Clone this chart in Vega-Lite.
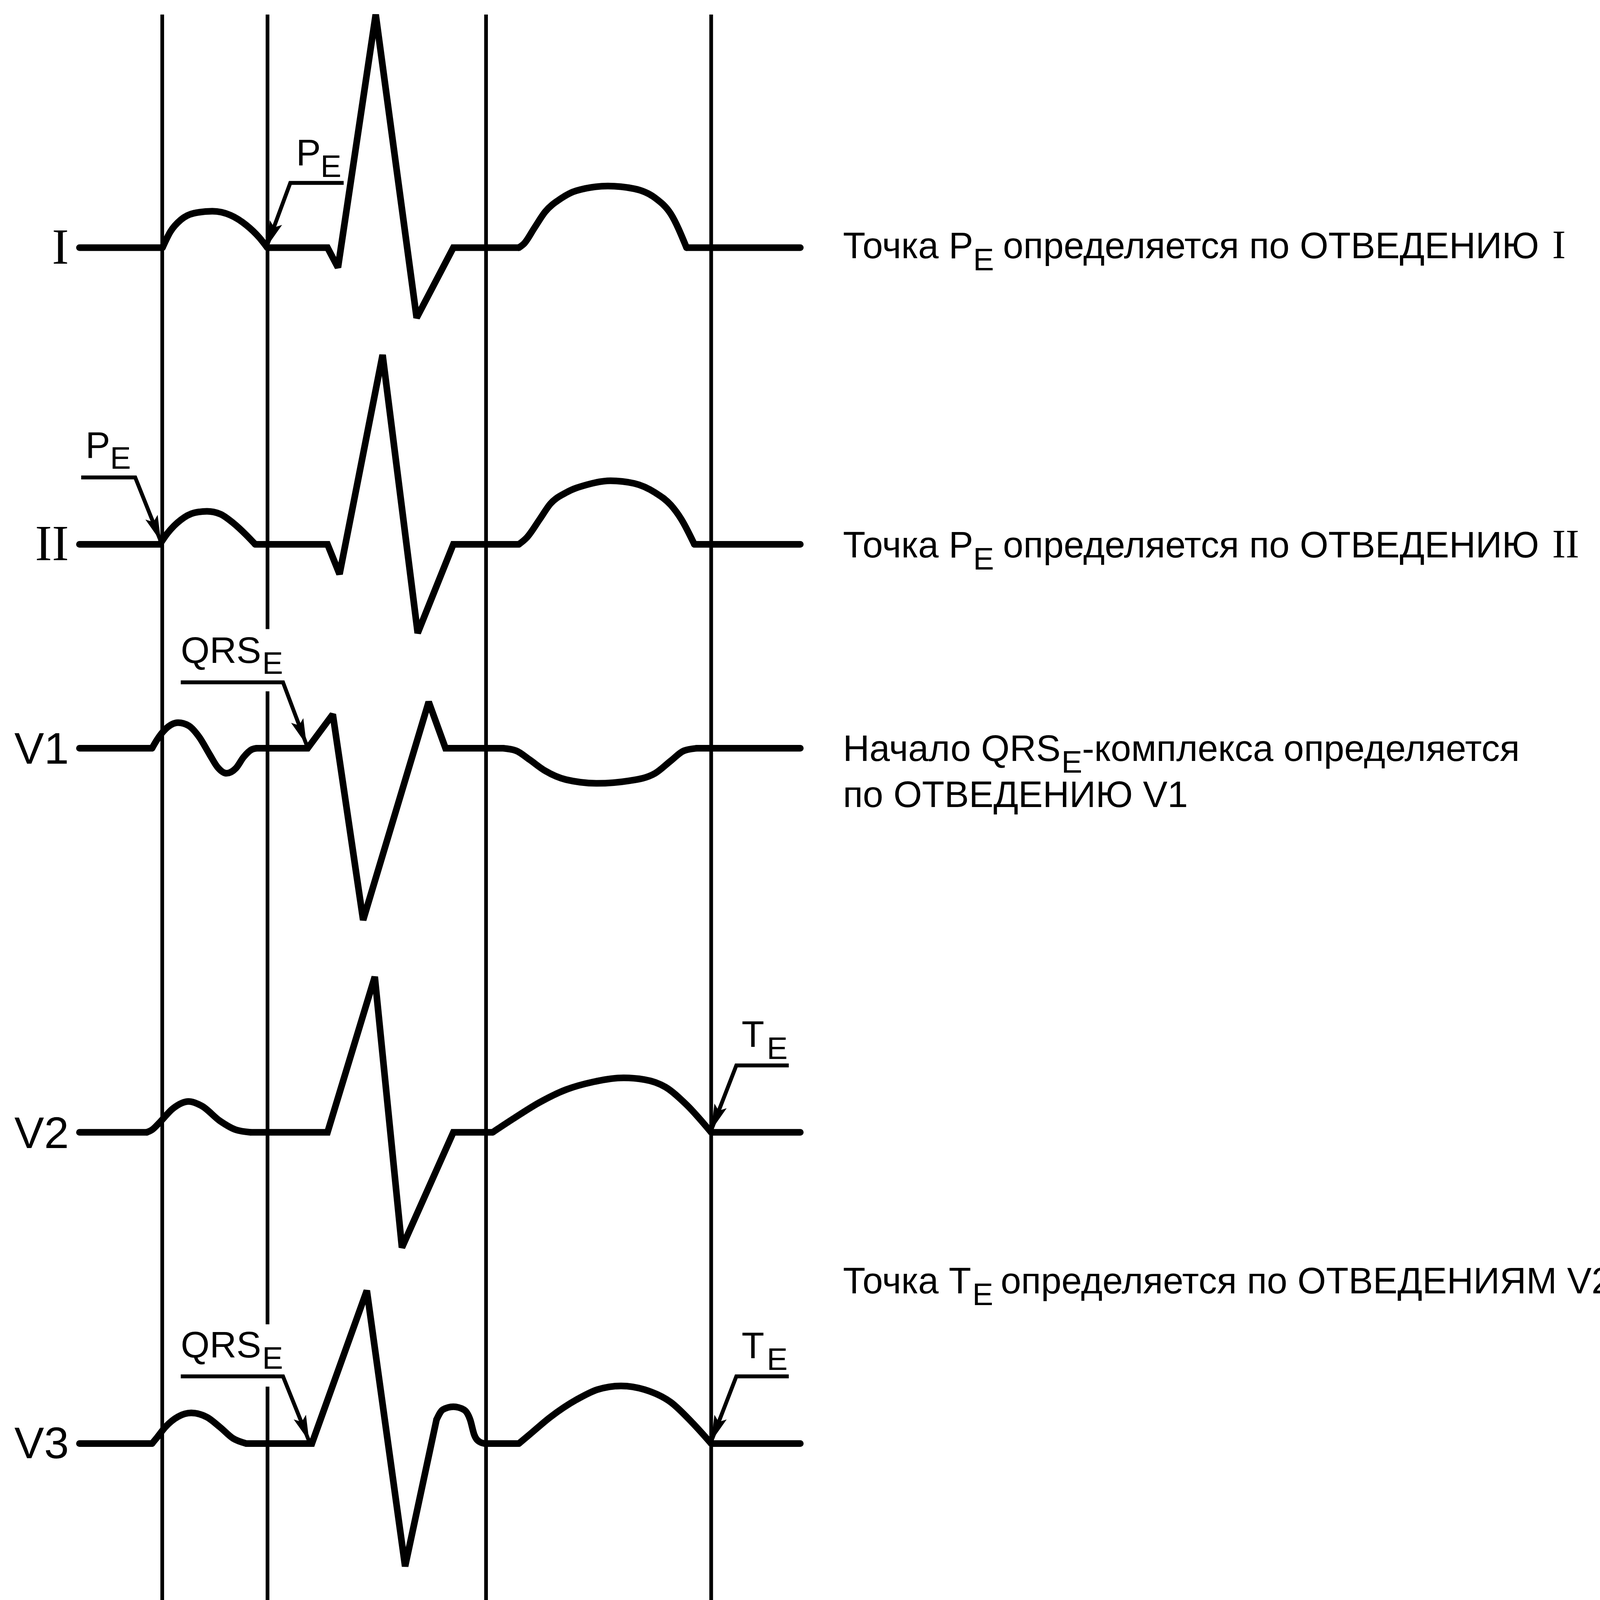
{
"$schema": "https://vega.github.io/schema/vega-lite/v6.json",
"width": 4312, "height": 5316, "padding": 0, "autosize": {"type": "none"},
"background": "white",
"config": {"view": {"stroke": null}},
"datasets": {
"trace": [
{"s":"I1","k":"L","o":0,"x":60,"y":187},{"s":"I1","k":"L","o":1,"x":122.7,"y":187},
{"s":"I2","k":"C","o":0,"x":122.7,"y":187},{"s":"I2","k":"C","o":1,"x":128.6,"y":175},{"s":"I2","k":"C","o":2,"x":136.5,"y":166},{"s":"I2","k":"C","o":3,"x":146.4,"y":161},{"s":"I2","k":"C","o":4,"x":160.3,"y":159.5},{"s":"I2","k":"C","o":5,"x":174.1,"y":162.5},{"s":"I2","k":"C","o":6,"x":186,"y":170},{"s":"I2","k":"C","o":7,"x":195.9,"y":179.5},{"s":"I2","k":"C","o":8,"x":201.8,"y":187},
{"s":"I3","k":"L","o":0,"x":201.8,"y":187},{"s":"I3","k":"L","o":1,"x":247.3,"y":187},{"s":"I3","k":"L","o":2,"x":255.2,"y":202},{"s":"I3","k":"L","o":3,"x":283.7,"y":11},{"s":"I3","k":"L","o":4,"x":314.6,"y":240},{"s":"I3","k":"L","o":5,"x":342.3,"y":187},{"s":"I3","k":"L","o":6,"x":391.8,"y":187},
{"s":"I4","k":"C","o":0,"x":391.8,"y":187},{"s":"I4","k":"C","o":1,"x":395.7,"y":184},{"s":"I4","k":"C","o":2,"x":403.6,"y":172},{"s":"I4","k":"C","o":3,"x":411.6,"y":160},{"s":"I4","k":"C","o":4,"x":423.4,"y":150},{"s":"I4","k":"C","o":5,"x":435.3,"y":144},{"s":"I4","k":"C","o":6,"x":459,"y":140.5},{"s":"I4","k":"C","o":7,"x":478.8,"y":142.5},{"s":"I4","k":"C","o":8,"x":494.7,"y":149.5},{"s":"I4","k":"C","o":9,"x":506.5,"y":161.5},{"s":"I4","k":"C","o":10,"x":518.4,"y":187},
{"s":"I5","k":"L","o":0,"x":518.4,"y":187},{"s":"I5","k":"L","o":1,"x":604.3,"y":187},

{"s":"II1","k":"L","o":0,"x":60,"y":411},{"s":"II1","k":"L","o":1,"x":120.7,"y":411},
{"s":"II2","k":"C","o":0,"x":120.7,"y":411},{"s":"II2","k":"C","o":1,"x":126.6,"y":402.5},{"s":"II2","k":"C","o":2,"x":136.5,"y":392.6},{"s":"II2","k":"C","o":3,"x":146.4,"y":387.3},{"s":"II2","k":"C","o":4,"x":156.3,"y":386.1},{"s":"II2","k":"C","o":5,"x":166.2,"y":388.1},{"s":"II2","k":"C","o":6,"x":176.1,"y":394.9},{"s":"II2","k":"C","o":7,"x":186,"y":404},{"s":"II2","k":"C","o":8,"x":192.7,"y":411},
{"s":"II3","k":"L","o":0,"x":192.7,"y":411},{"s":"II3","k":"L","o":1,"x":247.3,"y":411},{"s":"II3","k":"L","o":2,"x":256.4,"y":433.5},{"s":"II3","k":"L","o":3,"x":288.9,"y":268},{"s":"II3","k":"L","o":4,"x":315.4,"y":478},{"s":"II3","k":"L","o":5,"x":342.3,"y":411},{"s":"II3","k":"L","o":6,"x":391.8,"y":411},
{"s":"II4","k":"C","o":0,"x":391.8,"y":411},{"s":"II4","k":"C","o":1,"x":397.7,"y":406},{"s":"II4","k":"C","o":2,"x":407.6,"y":392},{"s":"II4","k":"C","o":3,"x":415.5,"y":380.5},{"s":"II4","k":"C","o":4,"x":427.4,"y":372},{"s":"II4","k":"C","o":5,"x":443.2,"y":366},{"s":"II4","k":"C","o":6,"x":461,"y":363},{"s":"II4","k":"C","o":7,"x":478.8,"y":365},{"s":"II4","k":"C","o":8,"x":494.7,"y":372},{"s":"II4","k":"C","o":9,"x":506.5,"y":381.3},{"s":"II4","k":"C","o":10,"x":514.4,"y":392},{"s":"II4","k":"C","o":11,"x":524.3,"y":411},
{"s":"II5","k":"L","o":0,"x":524.3,"y":411},{"s":"II5","k":"L","o":1,"x":604.3,"y":411},

{"s":"V1a","k":"L","o":0,"x":60,"y":565},{"s":"V1a","k":"L","o":1,"x":114.8,"y":565},
{"s":"V1b","k":"C","o":0,"x":114.8,"y":565},{"s":"V1b","k":"C","o":1,"x":118.7,"y":558.4},{"s":"V1b","k":"C","o":2,"x":124.7,"y":550.8},{"s":"V1b","k":"C","o":3,"x":134.5,"y":545.7},{"s":"V1b","k":"C","o":4,"x":142.5,"y":548},{"s":"V1b","k":"C","o":5,"x":150.4,"y":556.5},{"s":"V1b","k":"C","o":6,"x":158.3,"y":569.7},{"s":"V1b","k":"C","o":7,"x":164.2,"y":579.2},{"s":"V1b","k":"C","o":8,"x":171,"y":583.9},{"s":"V1b","k":"C","o":9,"x":178.1,"y":580.1},{"s":"V1b","k":"C","o":10,"x":184,"y":571.6},{"s":"V1b","k":"C","o":11,"x":190,"y":566},{"s":"V1b","k":"C","o":12,"x":193.9,"y":565},
{"s":"V1c","k":"L","o":0,"x":193.9,"y":565},{"s":"V1c","k":"L","o":1,"x":232.3,"y":565},{"s":"V1c","k":"L","o":2,"x":251.3,"y":539.4},{"s":"V1c","k":"L","o":3,"x":274.2,"y":694.7},{"s":"V1c","k":"L","o":4,"x":323.7,"y":530},{"s":"V1c","k":"L","o":5,"x":336.4,"y":565},{"s":"V1c","k":"L","o":6,"x":379.9,"y":565},
{"s":"V1d","k":"C","o":0,"x":379.9,"y":565},{"s":"V1d","k":"C","o":1,"x":389.8,"y":566.9},{"s":"V1d","k":"C","o":2,"x":399.7,"y":573.5},{"s":"V1d","k":"C","o":3,"x":411.6,"y":582},{"s":"V1d","k":"C","o":4,"x":427.4,"y":588.7},{"s":"V1d","k":"C","o":5,"x":451.1,"y":591.5},{"s":"V1d","k":"C","o":6,"x":474.9,"y":589.6},{"s":"V1d","k":"C","o":7,"x":494.7,"y":583.9},{"s":"V1d","k":"C","o":8,"x":506.5,"y":574.5},{"s":"V1d","k":"C","o":9,"x":516.4,"y":566.9},{"s":"V1d","k":"C","o":10,"x":526.3,"y":565},
{"s":"V1e","k":"L","o":0,"x":526.3,"y":565},{"s":"V1e","k":"L","o":1,"x":604.3,"y":565},

{"s":"V2a","k":"L","o":0,"x":60,"y":855},{"s":"V2a","k":"L","o":1,"x":110.8,"y":855},
{"s":"V2b","k":"C","o":0,"x":110.8,"y":855},{"s":"V2b","k":"C","o":1,"x":114.8,"y":853.1},{"s":"V2b","k":"C","o":2,"x":120.7,"y":847.4},{"s":"V2b","k":"C","o":3,"x":130.6,"y":837},{"s":"V2b","k":"C","o":4,"x":142.5,"y":831.7},{"s":"V2b","k":"C","o":5,"x":152.4,"y":835.1},{"s":"V2b","k":"C","o":6,"x":166.2,"y":846.5},{"s":"V2b","k":"C","o":7,"x":178.1,"y":853.1},{"s":"V2b","k":"C","o":8,"x":189.2,"y":855},
{"s":"V2c","k":"L","o":0,"x":189.2,"y":855},{"s":"V2c","k":"L","o":1,"x":247.3,"y":855},{"s":"V2c","k":"L","o":2,"x":283,"y":737.6},{"s":"V2c","k":"L","o":3,"x":303.5,"y":942},{"s":"V2c","k":"L","o":4,"x":342.3,"y":855},{"s":"V2c","k":"L","o":5,"x":372,"y":855},
{"s":"V2d","k":"C","o":0,"x":372,"y":855},{"s":"V2d","k":"C","o":1,"x":387.8,"y":844.6},{"s":"V2d","k":"C","o":2,"x":407.6,"y":832.3},{"s":"V2d","k":"C","o":3,"x":427.4,"y":822.8},{"s":"V2d","k":"C","o":4,"x":447.2,"y":817.1},{"s":"V2d","k":"C","o":5,"x":470.9,"y":813.9},{"s":"V2d","k":"C","o":6,"x":486.7,"y":815.2},{"s":"V2d","k":"C","o":7,"x":502.6,"y":820.9},{"s":"V2d","k":"C","o":8,"x":518.4,"y":834.2},{"s":"V2d","k":"C","o":9,"x":537,"y":855},
{"s":"V2e","k":"L","o":0,"x":537,"y":855},{"s":"V2e","k":"L","o":1,"x":604.3,"y":855},

{"s":"V3a","k":"L","o":0,"x":60,"y":1090},{"s":"V3a","k":"L","o":1,"x":114.8,"y":1090},
{"s":"V3b","k":"C","o":0,"x":114.8,"y":1090},{"s":"V3b","k":"C","o":1,"x":118.7,"y":1085.3},{"s":"V3b","k":"C","o":2,"x":124.7,"y":1077.7},{"s":"V3b","k":"C","o":3,"x":134.5,"y":1069.7},{"s":"V3b","k":"C","o":4,"x":144.4,"y":1066.9},{"s":"V3b","k":"C","o":5,"x":156.3,"y":1070.1},{"s":"V3b","k":"C","o":6,"x":166.2,"y":1077.7},{"s":"V3b","k":"C","o":7,"x":176.1,"y":1086.2},{"s":"V3b","k":"C","o":8,"x":186,"y":1090},
{"s":"V3c","k":"L","o":0,"x":186,"y":1090},{"s":"V3c","k":"L","o":1,"x":235.5,"y":1090},{"s":"V3c","k":"L","o":2,"x":277,"y":974.5},{"s":"V3c","k":"L","o":3,"x":305.9,"y":1182.7},{"s":"V3c","k":"L","o":4,"x":329.6,"y":1072},
{"s":"V3d","k":"C","o":0,"x":329.6,"y":1072},{"s":"V3d","k":"C","o":1,"x":334.4,"y":1064.4},{"s":"V3d","k":"C","o":2,"x":342.3,"y":1062.2},{"s":"V3d","k":"C","o":3,"x":350.2,"y":1064.4},{"s":"V3d","k":"C","o":4,"x":355,"y":1072},{"s":"V3d","k":"C","o":5,"x":358.1,"y":1083.4},{"s":"V3d","k":"C","o":6,"x":362.1,"y":1088.7},{"s":"V3d","k":"C","o":7,"x":366,"y":1090},
{"s":"V3e","k":"L","o":0,"x":366,"y":1090},{"s":"V3e","k":"L","o":1,"x":391.8,"y":1090},
{"s":"V3f","k":"C","o":0,"x":391.8,"y":1090},{"s":"V3f","k":"C","o":1,"x":399.7,"y":1083.4},{"s":"V3f","k":"C","o":2,"x":415.5,"y":1070.1},{"s":"V3f","k":"C","o":3,"x":435.3,"y":1056.9},{"s":"V3f","k":"C","o":4,"x":451.1,"y":1049.3},{"s":"V3f","k":"C","o":5,"x":468.9,"y":1046.5},{"s":"V3f","k":"C","o":6,"x":486.7,"y":1049.3},{"s":"V3f","k":"C","o":7,"x":506.5,"y":1058.8},{"s":"V3f","k":"C","o":8,"x":522.4,"y":1073.9},{"s":"V3f","k":"C","o":9,"x":537,"y":1090},
{"s":"V3g","k":"L","o":0,"x":537,"y":1090},{"s":"V3g","k":"L","o":1,"x":604.3,"y":1090},

{"s":"V5a","k":"L","o":0,"x":60,"y":1340},{"s":"V5a","k":"L","o":1,"x":114.8,"y":1340},
{"s":"V5b","k":"C","o":0,"x":114.8,"y":1340},{"s":"V5b","k":"C","o":1,"x":120.7,"y":1335.8},{"s":"V5b","k":"C","o":2,"x":130.6,"y":1328.3},{"s":"V5b","k":"C","o":3,"x":142.5,"y":1323.3},{"s":"V5b","k":"C","o":4,"x":154.3,"y":1321.6},{"s":"V5b","k":"C","o":5,"x":166.2,"y":1323.3},{"s":"V5b","k":"C","o":6,"x":178.1,"y":1330.8},{"s":"V5b","k":"C","o":7,"x":186,"y":1337},{"s":"V5b","k":"C","o":8,"x":191.1,"y":1340},
{"s":"V5c","k":"L","o":0,"x":191.1,"y":1340},{"s":"V5c","k":"L","o":1,"x":245.4,"y":1340},{"s":"V5c","k":"L","o":2,"x":290.9,"y":1215},{"s":"V5c","k":"L","o":3,"x":336.4,"y":1384.3},{"s":"V5c","k":"L","o":4,"x":367.2,"y":1340},{"s":"V5c","k":"L","o":5,"x":415.5,"y":1340},
{"s":"V5d","k":"C","o":0,"x":415.5,"y":1340},{"s":"V5d","k":"C","o":1,"x":423.4,"y":1327},{"s":"V5d","k":"C","o":2,"x":435.3,"y":1315.8},{"s":"V5d","k":"C","o":3,"x":451.1,"y":1305.9},{"s":"V5d","k":"C","o":4,"x":470.9,"y":1300.9},{"s":"V5d","k":"C","o":5,"x":490.7,"y":1305.9},{"s":"V5d","k":"C","o":6,"x":506.5,"y":1317.1},{"s":"V5d","k":"C","o":7,"x":518.4,"y":1328.3},{"s":"V5d","k":"C","o":8,"x":528.3,"y":1340},
{"s":"V5e","k":"L","o":0,"x":528.3,"y":1340},{"s":"V5e","k":"L","o":1,"x":604.3,"y":1340},

{"s":"V6a","k":"L","o":0,"x":60,"y":1535},{"s":"V6a","k":"L","o":1,"x":114.8,"y":1535},
{"s":"V6b","k":"C","o":0,"x":114.8,"y":1535},{"s":"V6b","k":"C","o":1,"x":120.7,"y":1530.5},{"s":"V6b","k":"C","o":2,"x":130.6,"y":1523},{"s":"V6b","k":"C","o":3,"x":142.5,"y":1518},{"s":"V6b","k":"C","o":4,"x":154.3,"y":1516.3},{"s":"V6b","k":"C","o":5,"x":166.2,"y":1518},{"s":"V6b","k":"C","o":6,"x":178.1,"y":1526.3},{"s":"V6b","k":"C","o":7,"x":186,"y":1532.5},{"s":"V6b","k":"C","o":8,"x":191.1,"y":1535},
{"s":"V6c","k":"L","o":0,"x":191.1,"y":1535},{"s":"V6c","k":"L","o":1,"x":243.4,"y":1535},{"s":"V6c","k":"L","o":2,"x":253.3,"y":1545},{"s":"V6c","k":"L","o":3,"x":290.9,"y":1409.7},{"s":"V6c","k":"L","o":4,"x":328.5,"y":1558.7},{"s":"V6c","k":"L","o":5,"x":350.2,"y":1535},{"s":"V6c","k":"L","o":6,"x":411.6,"y":1535},
{"s":"V6d","k":"C","o":0,"x":411.6,"y":1535},{"s":"V6d","k":"C","o":1,"x":417.5,"y":1522.5},{"s":"V6d","k":"C","o":2,"x":427.4,"y":1507.6},{"s":"V6d","k":"C","o":3,"x":443.2,"y":1496.4},{"s":"V6d","k":"C","o":4,"x":460.2,"y":1491.4},{"s":"V6d","k":"C","o":5,"x":478.8,"y":1495.1},{"s":"V6d","k":"C","o":6,"x":494.7,"y":1505.1},{"s":"V6d","k":"C","o":7,"x":510.5,"y":1520},{"s":"V6d","k":"C","o":8,"x":524.3,"y":1535},
{"s":"V6e","k":"L","o":0,"x":524.3,"y":1535},{"s":"V6e","k":"L","o":1,"x":604.3,"y":1535}
],
"vlines": [
{"x":122.5,"y":11,"y2":1568},{"x":202,"y":11,"y2":475},{"x":202,"y":522,"y2":1000},{"x":202,"y":1047,"y2":1568},{"x":367,"y":11,"y2":1568},{"x":537,"y":11,"y2":1568}
],
"leaders": [
{"s":"LI","o":0,"x":259.5,"y":138.1},{"s":"LI","o":1,"x":219.2,"y":138.1},{"s":"LI","o":2,"x":201.3,"y":186.5},
{"s":"LII","o":0,"x":61.3,"y":360.5},{"s":"LII","o":1,"x":102.1,"y":360.5},{"s":"LII","o":2,"x":121.5,"y":409},
{"s":"LV1","o":0,"x":136.5,"y":515.2},{"s":"LV1","o":1,"x":213.7,"y":515.2},{"s":"LV1","o":2,"x":231.5,"y":562.5},
{"s":"LV2","o":0,"x":595.6,"y":804.5},{"s":"LV2","o":1,"x":556,"y":804.5},{"s":"LV2","o":2,"x":537,"y":853.5},
{"s":"LV3Q","o":0,"x":136.5,"y":1039.3},{"s":"LV3Q","o":1,"x":213.7,"y":1039.3},{"s":"LV3Q","o":2,"x":233.5,"y":1088.5},
{"s":"LV3T","o":0,"x":595.6,"y":1039.3},{"s":"LV3T","o":1,"x":556,"y":1039.3},{"s":"LV3T","o":2,"x":537,"y":1088.5},
{"s":"LV5","o":0,"x":470.9,"y":1269.7},{"s":"LV5","o":1,"x":391.8,"y":1269.7},{"s":"LV5","o":2,"x":367.2,"y":1337.5}
],
"arrows": [
{"d":"left","x":201.3,"y":186.5},{"d":"right","x":121.5,"y":409},{"d":"right","x":231.5,"y":562.5},{"d":"left","x":537,"y":853.5},{"d":"right","x":233.5,"y":1088.5},{"d":"left","x":537,"y":1088.5},{"d":"left","x":367.2,"y":1337.5}
],
"texts": [
{"t":"Точка P","x":636.5,"y":195},{"t":"определяется по ОТВЕДЕНИЮ","x":757.3,"y":195},
{"t":"Точка P","x":636.5,"y":421},{"t":"определяется по ОТВЕДЕНИЮ","x":757.3,"y":421},
{"t":"Начало QRS","x":636.5,"y":574.5},{"t":"-комплекса определяется","x":817,"y":574.5},
{"t":"по ОТВЕДЕНИЮ V1","x":636.5,"y":609.5},
{"t":"Точка T","x":636.5,"y":976.5},{"t":"определяется по ОТВЕДЕНИЯМ V2, V3","x":755.6,"y":976.5},
{"t":"Окончание QRS","x":636.5,"y":1350},{"t":"-комплекса определяется","x":861,"y":1350},
{"t":"по отведению V5","x":636.5,"y":1384}
],
"labels": [
{"t":"P","x":223.6,"y":124.8},{"t":"P","x":64.5,"y":345.7},{"t":"QRS","x":136.5,"y":500.6},{"t":"T","x":560,"y":790.6},{"t":"QRS","x":136.5,"y":1025},{"t":"T","x":560,"y":1025.6},{"t":"QRS","x":391.8,"y":1254.8}
],
"subs": [
{"t":"E","x":734.8,"y":204},{"t":"E","x":734.8,"y":430},{"t":"E","x":801.5,"y":583.5},{"t":"E","x":734.2,"y":985.5},{"t":"E","x":845.5,"y":1359},
{"t":"E","x":242,"y":133.6},{"t":"E","x":83.1,"y":354},{"t":"E","x":198,"y":508.8},{"t":"E","x":579,"y":799.5},{"t":"E","x":198,"y":1033.4},{"t":"E","x":579,"y":1034.5},{"t":"E","x":453,"y":1263.5}
],
"roman": [
{"t":"I","x":1172,"y":195},{"t":"II","x":1172,"y":421}
],
"leadsSans": [
{"t":"V1","x":52,"y":576.5},{"t":"V2","x":52,"y":867},{"t":"V3","x":52,"y":1101},{"t":"V5","x":52,"y":1352},{"t":"V6","x":52,"y":1547}
],
"leadsSerif": [
{"t":"I","x":52,"y":199},{"t":"II","x":52,"y":423}
]
},
"encoding": {
"x": {"field":"x","type":"quantitative","scale":{"domain":[0,1271.86],"nice":false,"zero":false},"axis":null},
"y": {"field":"y","type":"quantitative","scale":{"domain":[1568,0],"nice":false,"zero":false},"axis":null}
},
"layer": [
{"data":{"name":"vlines"},"mark":{"type":"rule","color":"black","strokeWidth":9.5},"encoding":{"y2":{"field":"y2"}}},
{"data":{"name":"trace"},"transform":[{"filter":"datum.k == 'L'"}],"mark":{"type":"line","color":"black","strokeWidth":17,"strokeJoin":"miter","strokeMiterLimit":2.5,"strokeCap":"round"},"encoding":{"detail":{"field":"s"},"order":{"field":"o","type":"quantitative"}}},
{"data":{"name":"trace"},"transform":[{"filter":"datum.k == 'C'"}],"mark":{"type":"line","color":"black","strokeWidth":17,"interpolate":"monotone","strokeJoin":"round","strokeCap":"round"},"encoding":{"detail":{"field":"s"},"order":{"field":"o","type":"quantitative"}}},
{"data":{"name":"leaders"},"mark":{"type":"line","color":"black","strokeWidth":10,"strokeJoin":"miter"},"encoding":{"detail":{"field":"s"},"order":{"field":"o","type":"quantitative"}}},
{"data":{"name":"arrows"},"transform":[{"filter":"datum.d == 'left'"}],"mark":{"type":"point","shape":"M0,0L-0.25,-1L0,-0.8L0.25,-1Z","filled":true,"color":"black","opacity":1,"strokeWidth":0,"size":18000,"angle":21}},
{"data":{"name":"arrows"},"transform":[{"filter":"datum.d == 'right'"}],"mark":{"type":"point","shape":"M0,0L-0.25,-1L0,-0.8L0.25,-1Z","filled":true,"color":"black","opacity":1,"strokeWidth":0,"size":18000,"angle":-21}},
{"data":{"name":"texts"},"mark":{"type":"text","align":"left","baseline":"alphabetic","font":"Liberation Sans","fontSize":94,"color":"black"},"encoding":{"text":{"field":"t"}}},
{"data":{"name":"labels"},"mark":{"type":"text","align":"left","baseline":"alphabetic","font":"Liberation Sans","fontSize":95,"color":"black"},"encoding":{"text":{"field":"t"}}},
{"data":{"name":"subs"},"mark":{"type":"text","align":"left","baseline":"alphabetic","font":"Liberation Sans","fontSize":80,"color":"black"},"encoding":{"text":{"field":"t"}}},
{"data":{"name":"roman"},"mark":{"type":"text","align":"left","baseline":"alphabetic","font":"Liberation Serif","fontSize":104,"color":"black"},"encoding":{"text":{"field":"t"}}},
{"data":{"name":"leadsSans"},"mark":{"type":"text","align":"right","baseline":"alphabetic","font":"Liberation Sans","fontSize":114,"color":"black"},"encoding":{"text":{"field":"t"}}},
{"data":{"name":"leadsSerif"},"mark":{"type":"text","align":"right","baseline":"alphabetic","font":"Liberation Serif","fontSize":130,"color":"black"},"encoding":{"text":{"field":"t"}}}
]
}
